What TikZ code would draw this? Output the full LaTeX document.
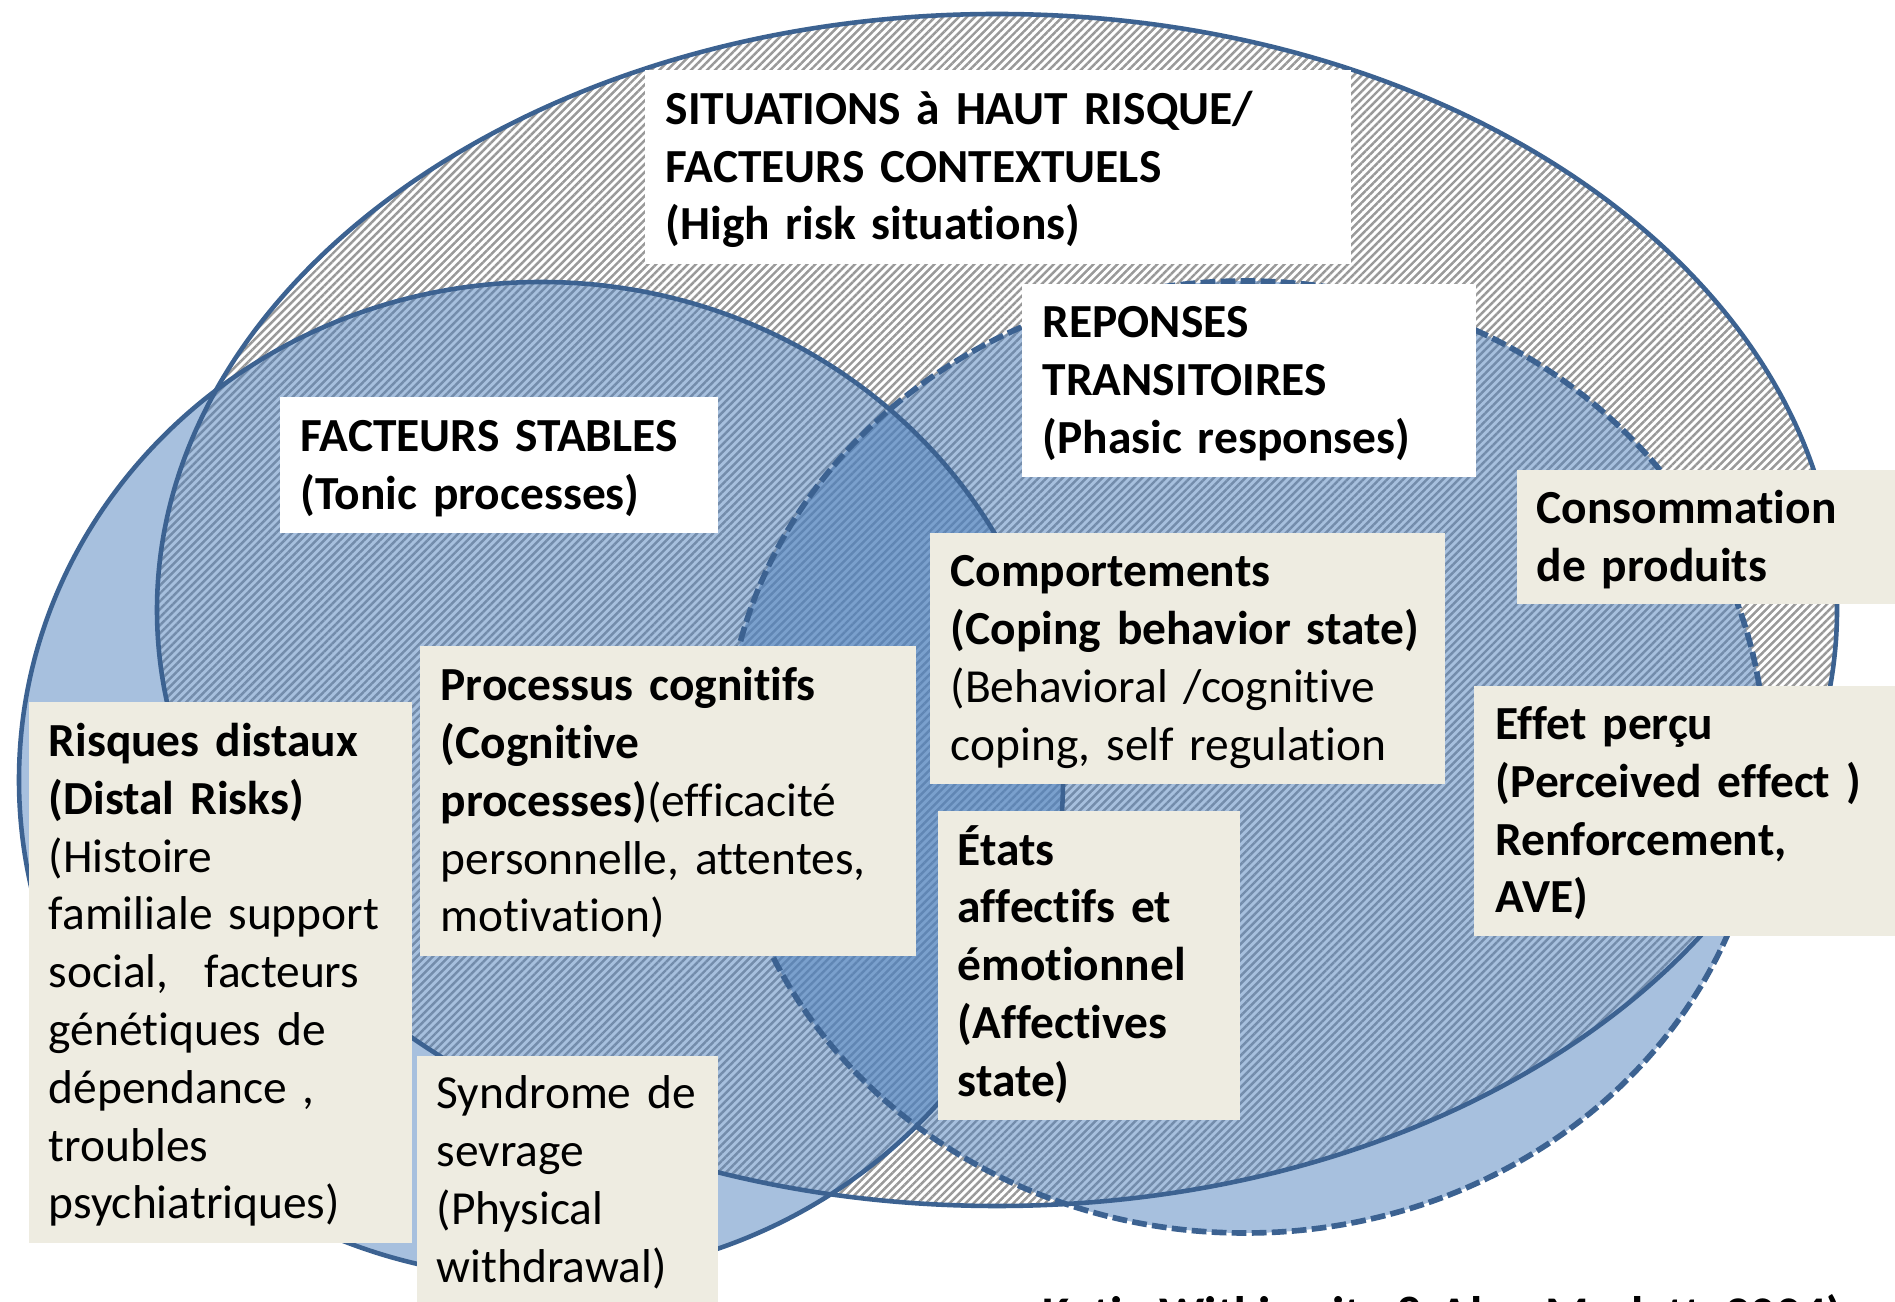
\documentclass[tikz,border=0pt]{standalone}
\usepackage{fontspec}
\setmainfont{Carlito}[Ligatures=NoCommon]
\usetikzlibrary{patterns.meta}
\definecolor{ringline}{RGB}{60,98,145}
\definecolor{ringfill}{RGB}{79,129,189}
\definecolor{boxtan}{RGB}{238,236,225}
\tikzset{
  ring/.style={draw=ringline, line width=1.3pt},
  labelbox/.style={anchor=north west, inner xsep=2.1mm, inner ysep=0pt, align=left,
    font=\fontsize{13.5}{16.45}\selectfont,
    execute at begin node={\rule{0pt}{4.5mm}},
    execute at end node={\rule[-1.4mm]{0pt}{1.4mm}}},
}
\begin{document}
\begin{tikzpicture}[x=0.1mm,y=-0.1mm]
\useasboundingbox (0,0) rectangle (1895,1302);
% hatching of the high risk situations
\fill [pattern={Lines[angle=45,distance=1.6pt,line width=0.7pt]}, pattern color=black!40]
  (997,610) ellipse [x radius=840, y radius=596];
% tonic (left) and phasic (right) circles
\fill [ringfill, fill opacity=0.5] (541,780) ellipse [x radius=522, y radius=498];
\fill [ringfill, fill opacity=0.5] (1245,757) ellipse [x radius=520, y radius=476];
\draw [ring] (997,610) ellipse [x radius=840, y radius=596];
\draw [ring] (541,780) ellipse [x radius=522, y radius=498];
\draw [ring, line width=1.6pt, dash pattern=on 4.2pt off 1.5pt] (1245,757) ellipse [x radius=520, y radius=476];
% titles
\node [labelbox, fill=white, text width=66.4mm, minimum height=19.4mm] (sit) at (644,69)
  {\bfseries SITUATIONS à HAUT RISQUE/\\FACTEURS CONTEXTUELS\\(High risk situations)};
\node [labelbox, fill=white, text width=39.6mm, minimum height=13.6mm] (stable) at (279,396)
  {\bfseries FACTEURS STABLES\\(Tonic processes)};
\node [labelbox, fill=white, text width=41.2mm, minimum height=19.3mm] (phasic) at (1021,283)
  {\bfseries REPONSES\\TRANSITOIRES\\(Phasic responses)};
% factors
\node [labelbox, fill=boxtan, inner xsep=2mm, text width=34mm, minimum height=13.4mm] (conso) at (1516,469)
  {\bfseries Consommation\\de produits};
\node [labelbox, fill=boxtan, text width=47.3mm, minimum height=25.1mm] (coping) at (929,532)
  {\textbf{Comportements}\\\textbf{(Coping behavior state)}\\(Behavioral /cognitive\\coping, self regulation};
\node [labelbox, fill=boxtan, text width=45.4mm, minimum height=31mm] (cogn) at (419,645)
  {\textbf{Processus cognitifs}\\\textbf{(Cognitive}\\\textbf{processes)}(efficacité\\personnelle, attentes,\\motivation)};
\node [labelbox, fill=boxtan, inner xsep=2mm, text width=34.3mm, minimum height=54.1mm] (distal) at (28,701)
  {\textbf{Risques distaux}\\\textbf{(Distal Risks)}\\(Histoire\\familiale support\\social,\hspace*{3.6mm}facteurs\\génétiques de\\dépendance ,\\troubles\\psychiatriques)};
\node [labelbox, fill=boxtan, inner xsep=2mm, text width=26.1mm, minimum height=24.9mm] (withdraw) at (416,1055)
  {Syndrome de\\sevrage\\(Physical\\withdrawal)};
\node [labelbox, fill=boxtan, inner xsep=2mm, text width=26.2mm, minimum height=30.9mm] (affect) at (937,810)
  {\bfseries États\\affectifs et\\émotionnel\\(Affectives\\state)};
\node [labelbox, fill=boxtan, inner xsep=2.2mm, text width=37.8mm, minimum height=25mm] (effect) at (1473,685)
  {\bfseries Effet perçu\\(Perceived effect )\\Renforcement,\\AVE)};
% source, cut by the page edge
\node [anchor=base west, inner sep=0pt, font=\fontsize{14.2}{17}\selectfont\bfseries] (source) at (1042,1331)
  {Katie Witkiewitz \& Alan Marlatt, 2004)};
\end{tikzpicture}
\end{document}
